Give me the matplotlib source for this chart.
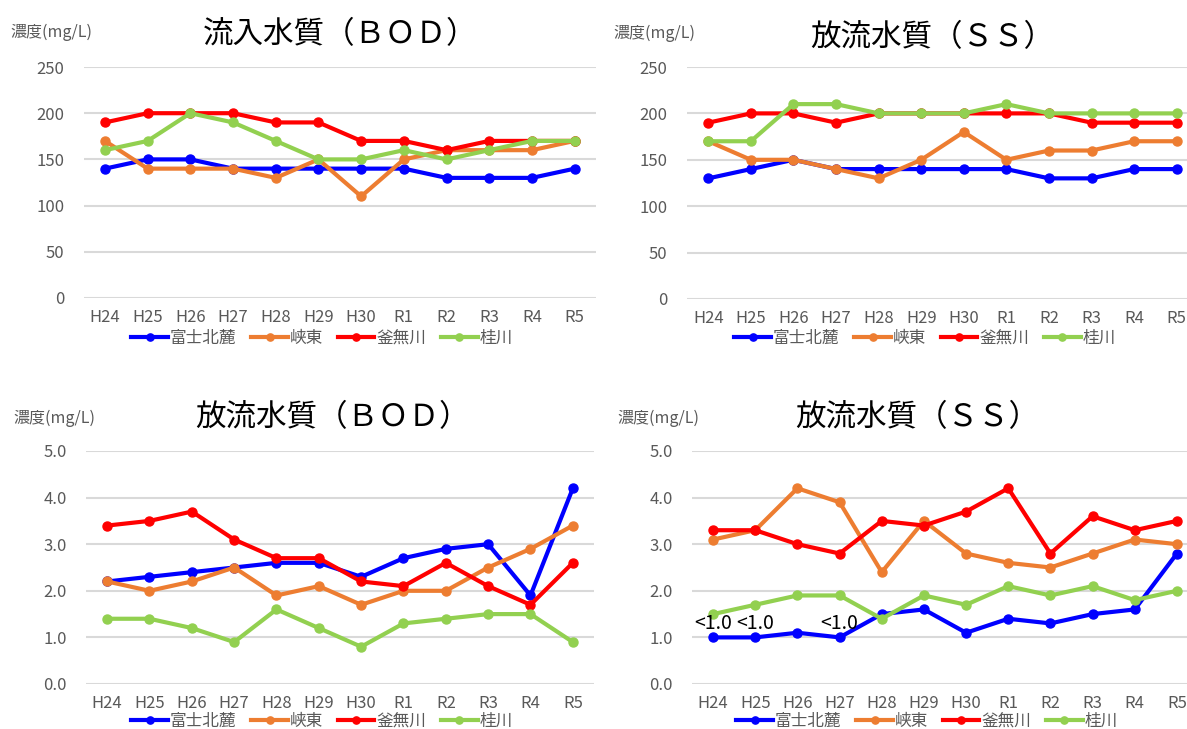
import matplotlib
matplotlib.use("Agg")
import matplotlib.pyplot as plt

plt.rcParams['font.family'] = ['Noto Sans CJK JP', 'DejaVu Sans']

years = ["H24", "H25", "H26", "H27", "H28", "H29", "H30", "R1", "R2", "R3", "R4", "R5"]
sites = ["富士北麓", "峡東", "釜無川", "桂川"]
colors = ["#0000FF", "#ED7D31", "#FF0000", "#92D050"]

# 流入水質（BOD）
in_bod_fuji = [140, 150, 150, 140, 140, 140, 140, 140, 130, 130, 130, 140]
in_bod_kyoto = [170, 140, 140, 140, 130, 150, 110, 150, 160, 160, 160, 170]
in_bod_kama = [190, 200, 200, 200, 190, 190, 170, 170, 160, 170, 170, 170]
in_bod_katsura = [160, 170, 200, 190, 170, 150, 150, 160, 150, 160, 170, 170]

# 右上（SS）
in_ss_fuji = [130, 140, 150, 140, 140, 140, 140, 140, 130, 130, 140, 140]
in_ss_kyoto = [170, 150, 150, 140, 130, 150, 180, 150, 160, 160, 170, 170]
in_ss_kama = [190, 200, 200, 190, 200, 200, 200, 200, 200, 190, 190, 190]
in_ss_katsura = [170, 170, 210, 210, 200, 200, 200, 210, 200, 200, 200, 200]

# 放流水質（BOD）
out_bod_fuji = [2.2, 2.3, 2.4, 2.5, 2.6, 2.6, 2.3, 2.7, 2.9, 3.0, 1.9, 4.2]
out_bod_kyoto = [2.2, 2.0, 2.2, 2.5, 1.9, 2.1, 1.7, 2.0, 2.0, 2.5, 2.9, 3.4]
out_bod_kama = [3.4, 3.5, 3.7, 3.1, 2.7, 2.7, 2.2, 2.1, 2.6, 2.1, 1.7, 2.6]
out_bod_katsura = [1.4, 1.4, 1.2, 0.9, 1.6, 1.2, 0.8, 1.3, 1.4, 1.5, 1.5, 0.9]

# 放流水質（SS）
out_ss_fuji = [1.0, 1.0, 1.1, 1.0, 1.5, 1.6, 1.1, 1.4, 1.3, 1.5, 1.6, 2.8]
out_ss_kyoto = [3.1, 3.3, 4.2, 3.9, 2.4, 3.5, 2.8, 2.6, 2.5, 2.8, 3.1, 3.0]
out_ss_kama = [3.3, 3.3, 3.0, 2.8, 3.5, 3.4, 3.7, 4.2, 2.8, 3.6, 3.3, 3.5]
out_ss_katsura = [1.5, 1.7, 1.9, 1.9, 1.4, 1.9, 1.7, 2.1, 1.9, 2.1, 1.8, 2.0]
below_limit = [0, 1, 3]  # 富士北麓 <1.0 の年

W, H = 1187, 729
fig = plt.figure(figsize=(W / 100, H / 100), dpi=100)
fig.patch.set_facecolor("white")


def px_axes(left, right, top, bottom):
    return fig.add_axes([left / W, 1 - bottom / H, (right - left) / W, (bottom - top) / H])


def draw_panel(rect, title, title_xy, ylabel_xy, series, ymax, ystep, fmt, legend_xy):
    ax = px_axes(*rect)
    x = list(range(len(years)))
    for name, vals, c in zip(sites, series, colors):
        ax.plot(x, vals, color=c, lw=3, marker="o", ms=6.5, label=name, clip_on=False)
    ax.set_xlim(-0.5, len(years) - 0.5)
    ax.set_ylim(0, ymax)
    ticks = [i * ystep for i in range(int(round(ymax / ystep)) + 1)]
    ax.set_yticks(ticks)
    ax.set_yticklabels([fmt.format(t) for t in ticks], fontsize=12, color="#595959")
    ax.set_xticks(x)
    ax.set_xticklabels(years, fontsize=12, color="#595959")
    ax.tick_params(axis="y", length=0, pad=14)
    ax.tick_params(axis="x", length=0, pad=8)
    ax.grid(axis="y", color="#D9D9D9", lw=1.5)
    ax.set_axisbelow(True)
    for s in ax.spines.values():
        s.set_visible(False)
    fig.text(title_xy[0] / W, 1 - title_xy[1] / H, title, fontsize=22,
             ha="center", va="center", color="black")
    fig.text(ylabel_xy[0] / W, 1 - ylabel_xy[1] / H, "濃度(mg/L)", fontsize=11.5,
             ha="left", va="center", color="#595959")
    ax.legend(loc="center", bbox_to_anchor=(legend_xy[0] / W, 1 - legend_xy[1] / H),
              bbox_transform=fig.transFigure, ncol=4, frameon=False, fontsize=12,
              handlelength=2.2, handletextpad=0.1, columnspacing=0.9, markerscale=0.8,
              labelcolor="#595959")
    return ax


draw_panel((83.6, 596, 67, 298), "流入水質（ＢＯＤ）", (340, 35), (10, 32),
           [in_bod_fuji, in_bod_kyoto, in_bod_kama, in_bod_katsura],
           250, 50, "{:.0f}", (322, 338))
draw_panel((687, 1198, 67, 299), "放流水質（ＳＳ）", (932, 38), (613, 33),
           [in_ss_fuji, in_ss_kyoto, in_ss_kama, in_ss_katsura],
           250, 50, "{:.0f}", (925, 338))
draw_panel((86, 594, 451, 684), "放流水質（ＢＯＤ）", (332, 418), (13, 418),
           [out_bod_fuji, out_bod_kyoto, out_bod_kama, out_bod_katsura],
           5.0, 1.0, "{:.1f}", (322, 721))
ax4 = draw_panel((692, 1198, 451, 684), "放流水質（ＳＳ）", (917, 418), (617, 418),
                 [out_ss_fuji, out_ss_kyoto, out_ss_kama, out_ss_katsura],
                 5.0, 1.0, "{:.1f}", (927, 721))
for i in below_limit:
    ax4.annotate("<1.0", (i, out_ss_fuji[i]), xytext=(0, 2.5), textcoords="offset points",
                 ha="center", va="bottom", fontsize=14, color="black")

fig.savefig("out.png", dpi=100)
